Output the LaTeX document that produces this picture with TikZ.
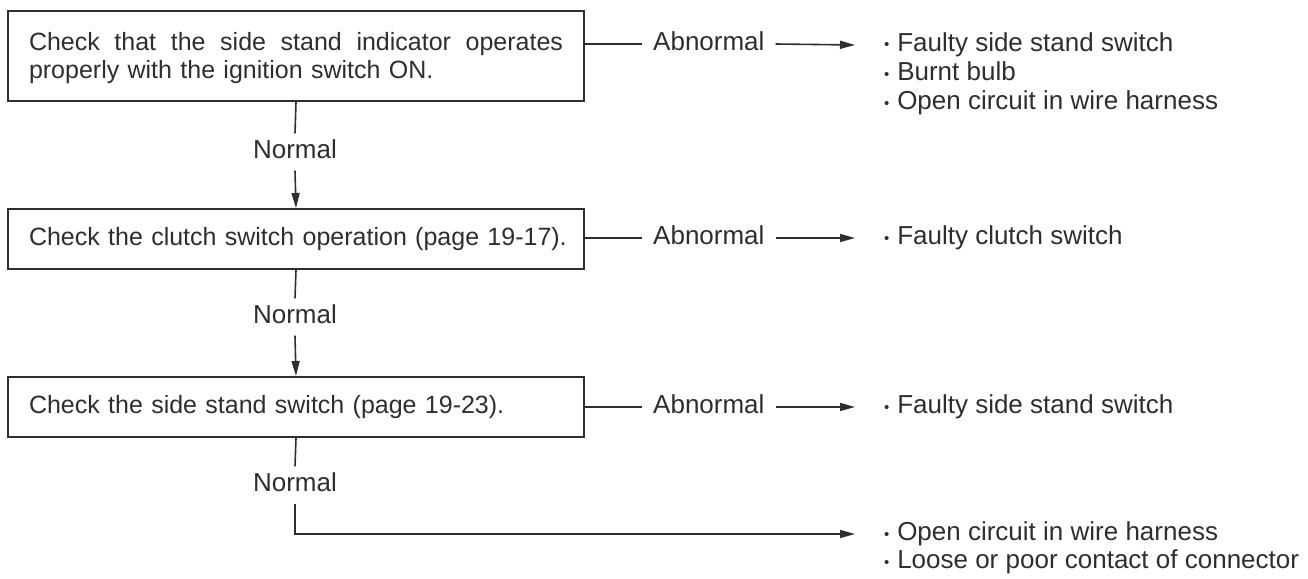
\documentclass[tikz,border=0pt]{standalone}
\usepackage{fontspec}
\setmainfont{Liberation Sans}
\usetikzlibrary{arrows.meta}
\definecolor{ink}{HTML}{2E2E2E}
\newcommand\bul{{\fontsize{15pt}{15pt}\selectfont\raisebox{1.5pt}{•}}\hspace{8pt}}
\begin{document}
\begin{tikzpicture}[x=1pt,y=-1pt,
  every node/.style={text=ink, font=\fontsize{26pt}{28pt}\selectfont},
  stepbox/.style={draw=ink, line width=2pt, anchor=north west, minimum width=576pt,
    text width=534pt, inner xsep=21pt, inner ysep=0pt, align=left,
    font=\fontsize{25pt}{28pt}\selectfont},
  lab/.style={text height=18pt, text depth=5pt, inner ysep=7pt, inner xsep=11pt},
  row/.style={anchor=west, text height=18pt, text depth=5pt, inner ysep=0pt, inner xsep=0pt, outer xsep=29pt},
  conn/.style={draw=ink, line width=1.6pt},
  arr/.style={conn, -{Triangle[length=15pt,width=8pt]}}]
\useasboundingbox (0,0) rectangle (1308,578);

% boxes
\node[stepbox, minimum height=90pt] (b1) at (7,10)
  {\rule{0pt}{39pt}{\spaceskip=0pt\relax\makebox[534pt][s]{Check that the side stand indicator operates}}\\
   properly with the ignition switch ON.\rule[-22pt]{0pt}{22pt}};
\node[stepbox, minimum height=60pt] (b2) at (7,208)
  {\mbox{Check the clutch switch operation (page 19-17).}};
\node[stepbox, minimum height=60pt] (b3) at (7,376)
  {Check the side stand switch (page 19-23).};

% normal labels
\node[lab] (n1) at (295,152) {Normal};
\node[lab] (n2) at (295,317) {Normal};
\node[lab] (n3) at (295,485) {Normal};

% abnormal labels
\node[lab, anchor=west] (a1) at (642,44) {Abnormal};
\node[lab, anchor=west] (a2) at (642,238) {Abnormal};
\node[lab, anchor=west] (a3) at (642,407) {Abnormal};

% result rows
\node[row] (r1a) at (855,45) {\bul Faulty side stand switch};
\node[row] (r1b) at (855,74) {\bul Burnt bulb};
\node[row] (r1c) at (855,103) {\bul Open circuit in wire harness};
\node[row] (r2) at (855,238) {\bul Faulty clutch switch};
\node[row] (r3) at (855,407) {\bul Faulty side stand switch};
\node[row] (r4a) at (855,534) {\bul Open circuit in wire harness};
\node[row] (r4b) at (855,562) {\bul Loose or poor contact of connector};

% vertical flow
\draw[conn] (b1.south) -- (n1.north);
\draw[arr] (n1.south) -- (b2.north);
\draw[conn] (b2.south) -- (n2.north);
\draw[arr] (n2.south) -- (b3.north);
\draw[conn] (b3.south) -- (n3.north);
\draw[arr] (n3.south) |- (r4a.west);

% abnormal branches
\draw[conn] (b1.east |- a1.west) -- (a1.west);
\draw[arr] (a1.east) -- (r1a.west);
\draw[conn] (b2.east |- a2.west) -- (a2.west);
\draw[arr] (a2.east) -- (r2.west);
\draw[conn] (b3.east |- a3.west) -- (a3.west);
\draw[arr] (a3.east) -- (r3.west);
\end{tikzpicture}
\end{document}
